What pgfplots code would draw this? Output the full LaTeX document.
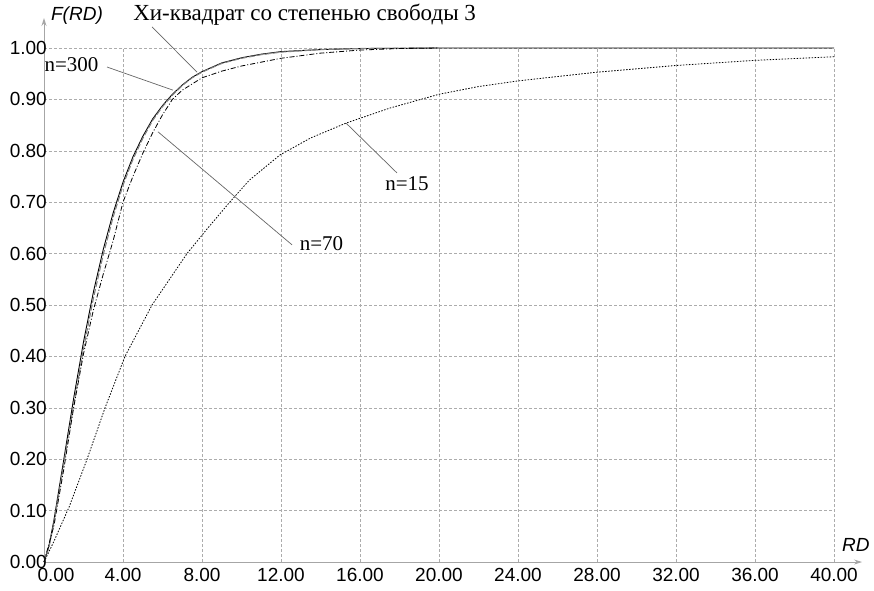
\documentclass[border=0pt]{standalone}
\usepackage{fontspec}
\setmainfont{Liberation Serif}
\setsansfont{Liberation Sans}
\usepackage{pgfplots}
\pgfplotsset{compat=1.18}
\usetikzlibrary{arrows.meta}

\begin{document}
\begin{tikzpicture}
\begin{axis}[
  scale only axis,
  width=790pt, height=514pt,
  xmin=0, xmax=40, ymin=0, ymax=1,
  clip=false,
  axis x line=bottom, axis y line=left,
  x axis line style={draw=gray!70, line width=0.9pt, -{Stealth[length=8pt,width=5pt]}, shorten >=-28pt},
  y axis line style={draw=gray!70, line width=0.9pt, -{Stealth[length=8pt,width=5pt]}, shorten >=-30pt},
  xtick={0,4,8,12,16,20,24,28,32,36,40},
  xticklabels={\hspace*{24pt}0.00,4.00,8.00,12.00,16.00,20.00,24.00,28.00,32.00,36.00,40.00},
  ytick={0,0.1,0.2,0.3,0.4,0.5,0.6,0.7,0.8,0.9,1},
  yticklabel={\pgfmathprintnumber[fixed,fixed zerofill,precision=2]{\tick}},
  /pgf/number format/assume math mode=true,
  tick style={draw=none},
  major tick length=0pt,
  tick label style={font=\sffamily\fontsize{19}{21}\selectfont, text=black},
  xticklabel style={anchor=north, inner sep=0pt, yshift=-6pt},
  yticklabel style={anchor=east, inner sep=0pt, xshift=3pt},
  grid=major,
  major grid style={draw=gray!65, line width=0.6pt, dash pattern=on 3pt off 2pt},
]
% chi-square, 3 degrees of freedom
\addplot[black, line width=0.9pt] coordinates {
  (0,0) (0.25,0.031) (0.5,0.081) (1,0.199) (1.5,0.318) (2,0.428) (2.5,0.525)
  (3,0.608) (3.5,0.679) (4,0.739) (4.5,0.788) (5,0.828) (5.5,0.862) (6,0.888)
  (6.5,0.910) (7,0.928) (7.5,0.943) (8,0.954) (9,0.971) (10,0.981) (11,0.988)
  (12,0.993) (14,0.997) (16,0.999) (20,1.0) (40,1.0)
};
% n=300
\addplot[gray, line width=1.1pt, dash pattern=on 6pt off 2pt] coordinates {
  (0,0) (0.25,0.028) (0.5,0.076) (1,0.19) (1.5,0.305) (2,0.415) (2.5,0.513)
  (3,0.598) (3.5,0.671) (4,0.733) (4.5,0.783) (5,0.824) (5.5,0.859) (6,0.886)
  (6.5,0.908) (7,0.927) (7.5,0.942) (8,0.953) (9,0.970) (10,0.980) (11,0.987)
  (12,0.992) (14,0.997) (16,0.999) (20,1.0)
};
% n=70
\addplot[black, line width=0.8pt, dash pattern=on 5pt off 2pt on 1pt off 2pt] coordinates {
  (0,0) (0.5,0.07) (1,0.18) (1.5,0.30) (2,0.405) (2.5,0.49) (3,0.56)
  (3.5,0.625) (4,0.70) (4.5,0.75) (5,0.795) (5.5,0.835) (6,0.87) (6.5,0.9)
  (7,0.918) (8,0.942) (9,0.955) (10,0.965) (12,0.98) (14,0.99) (16,0.996)
  (18,0.999) (20,1.0)
};
% n=15
\addplot[black, line width=0.8pt, dash pattern=on 1.5pt off 1.5pt] coordinates {
  (0,0) (0.5,0.04) (1.27,0.107) (2.18,0.2) (3.09,0.3) (4.1,0.4) (5.47,0.5)
  (7.24,0.6) (8.3,0.65) (9.4,0.7) (10.4,0.743) (11.95,0.792) (13.5,0.825)
  (15.3,0.854) (17.5,0.883) (20,0.91) (22,0.925) (24,0.936) (28,0.953)
  (32,0.966) (36,0.976) (40,0.983)
};

% leader lines and labels
\draw[gray!80!black, line width=0.7pt] (axis cs:5.47,1.041) -- (axis cs:7.75,0.953);
\draw[gray!80!black, line width=0.7pt] (axis cs:3.19,0.963) -- (axis cs:6.53,0.918);
\draw[gray!80!black, line width=0.7pt] (axis cs:5.77,0.837) -- (axis cs:12.56,0.617);
\draw[gray!80!black, line width=0.7pt] (axis cs:15.29,0.854) -- (axis cs:17.87,0.757);

\node[anchor=west, inner sep=0pt, font=\fontsize{23}{25}\selectfont] at (axis cs:4.51,1.064) {Хи-квадрат со степенью свободы 3};
\node[inner sep=0pt, font=\fontsize{21}{23}\selectfont] at (axis cs:1.39,0.967) {n=300};
\node[inner sep=0pt, font=\fontsize{21}{23}\selectfont] at (axis cs:14.05,0.619) {n=70};
\node[inner sep=0pt, font=\fontsize{21}{23}\selectfont] at (axis cs:18.38,0.737) {n=15};

\node[inner sep=0pt, font=\sffamily\itshape\fontsize{19}{21}\selectfont] at (axis cs:1.67,1.064) {F(RD)};
\node[inner sep=0pt, font=\sffamily\itshape\fontsize{19}{21}\selectfont] at (axis cs:41.11,0.033) {RD};

\path (rel axis cs:-0.0557,-0.0545) rectangle (rel axis cs:1.0506,1.0934);
\end{axis}
\end{tikzpicture}
\end{document}
